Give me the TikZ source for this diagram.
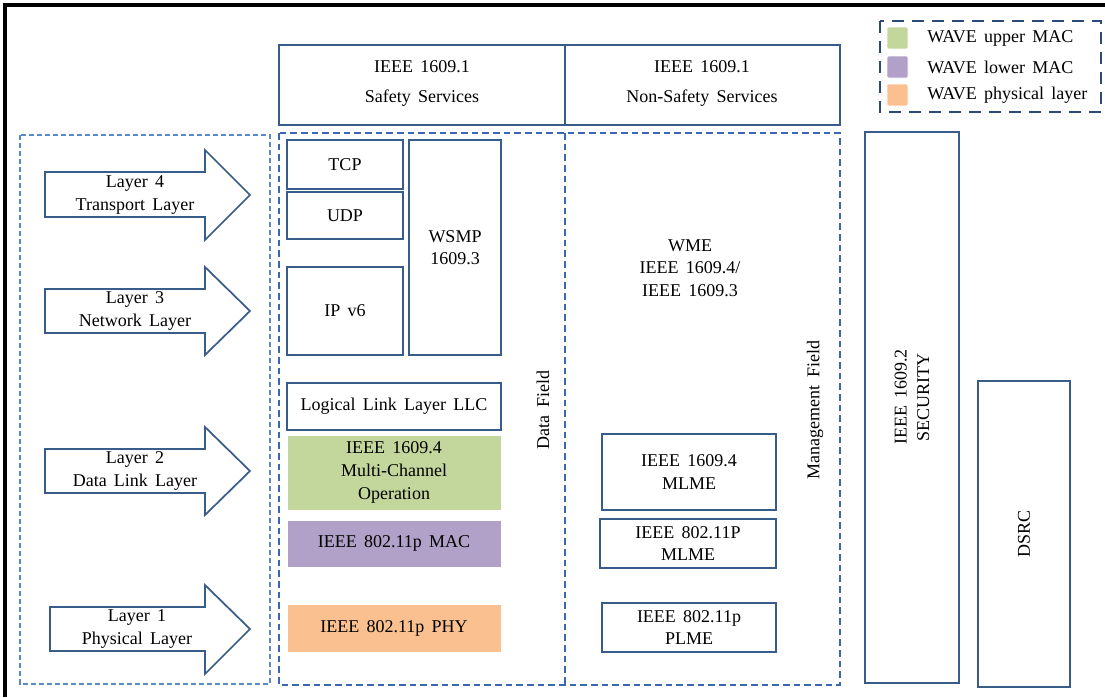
\documentclass[tikz,border=0pt]{standalone}
\usepackage{fontspec}
\setmainfont{Liberation Serif}
\usepackage{tikz}
\usetikzlibrary{positioning}
\definecolor{boxblue}{HTML}{385D8A}
\definecolor{dashblue}{HTML}{3A67AD}
\definecolor{lightdash}{HTML}{5A8AC6}
\definecolor{legdash}{HTML}{2C4A78}
\definecolor{upmac}{HTML}{C3D69B}
\definecolor{lowmac}{HTML}{B1A0C7}
\definecolor{phylay}{HTML}{FAC090}
\newcommand{\diagfont}{\fontsize{13.5}{17}\selectfont\spaceskip=0.4em plus 0.1em\relax}
\tikzstyle{box}=[draw=boxblue, line width=1.3pt]
\tikzstyle{fillbox}=[draw=white, line width=0.6pt]
\tikzstyle{txt}=[align=center, font=\diagfont, inner sep=0pt]
\tikzstyle{layerarrow}=[draw=boxblue, line width=1.3pt, line join=miter]
\tikzstyle{field}=[draw=dashblue, line width=1.2pt, dash pattern=on 5pt off 3pt]
\tikzstyle{swatch}=[draw=white, line width=0.5pt, rounded corners=1pt]

\begin{document}
\begin{tikzpicture}[x=0.75pt, y=-0.75pt]
    \useasboundingbox (0,0) rectangle (1105,697);
    \draw[line width=2.4pt] (5,697) -- (5,5) -- (1105,5);

    % legend
    \draw[draw=legdash, line width=2.2pt, dash pattern=on 9pt off 6pt] (880,21) rectangle (1101,112);
    \fill[swatch, fill=upmac] (887,27) rectangle (908,49);
    \fill[swatch, fill=lowmac] (887,56) rectangle (908,78);
    \fill[swatch, fill=phylay] (887,84) rectangle (908,106);
    \node[txt, anchor=west] (lup) at (927,38) {WAVE upper MAC};
    \node[txt, anchor=west] (llow) at (927,67) {WAVE lower MAC};
    \node[txt, anchor=west] (lphy) at (927,95) {WAVE physical layer};

    % services
    \draw[box] (279,45) rectangle (565,125) node[midway] (safe) {};
    \node[txt] (safe1) at (422,67) {IEEE 1609.1};
    \node[txt] (safe2) at (422,98) {Safety Services};
    \draw[box] (565,45) rectangle (840,125) node[midway] (nonsafe) {};
    \node[txt] (nonsafe1) at (702,67) {IEEE 1609.1};
    \node[txt] (nonsafe2) at (702,98) {Non-Safety Services};

    % OSI layers
    \draw[draw=lightdash, line width=1pt, dash pattern=on 4pt off 2pt] (20,135) rectangle (270,684);
    \draw[layerarrow] (45,172) -- (205,172) -- (205,150) -- (250,195) -- (205,240) -- (205,217) -- (45,217) -- cycle;
    \node[txt] (l4) at (135,195) {Layer 4\\Transport Layer};
    \draw[layerarrow] (45,289) -- (205,289) -- (205,267) -- (250,311) -- (205,355) -- (205,333) -- (45,333) -- cycle;
    \node[txt] (l3) at (135,311) {Layer 3\\Network Layer};
    \draw[layerarrow] (45,449) -- (205,449) -- (205,427) -- (250,471) -- (205,515) -- (205,493) -- (45,493) -- cycle;
    \node[txt] (l2) at (135,471) {Layer 2\\Data Link Layer};
    \draw[layerarrow] (50,607) -- (205,607) -- (205,585) -- (250,629) -- (205,674) -- (205,651) -- (50,651) -- cycle;
    \node[txt] (l1) at (137,629) {Layer 1\\Physical Layer};

    % data and management fields
    \draw[field] (279,133) rectangle (840,685);
    \draw[field] (565,133) -- (565,685);
    \node[txt, rotate=90] (datafield) at (543,410) {Data Field};
    \node[txt, rotate=90] (mgmtfield) at (815,410) {Management Field};

    % data plane
    \draw[box] (287,140) rectangle (403,189) node[midway] (tcp) {};
    \node[txt] at (tcp) {TCP};
    \draw[box] (287,192) rectangle (403,239) node[midway] (udp) {};
    \node[txt] at (udp) {UDP};
    \draw[box] (287,267) rectangle (403,355) node[midway] (ipv6) {};
    \node[txt] at (ipv6) {IP v6};
    \draw[box] (409,140) rectangle (501,355) node[midway] (wsmp) {};
    \node[txt] at (wsmp) {WSMP\\1609.3};
    \draw[box] (287,383) rectangle (501,430) node[midway] (llc) {};
    \node[txt] at (llc) {Logical Link Layer LLC};
    \fill[fillbox, fill=upmac] (287,435) rectangle (501,510) node[midway] (mco) {};
    \node[txt] at (mco) {IEEE 1609.4\\Multi-Channel\\Operation};
    \fill[fillbox, fill=lowmac] (287,520) rectangle (501,567) node[midway] (mac) {};
    \node[txt] at (mac) {IEEE 802.11p MAC};
    \fill[fillbox, fill=phylay] (287,604) rectangle (501,652) node[midway] (phy) {};
    \node[txt] at (phy) {IEEE 802.11p PHY};

    % management plane
    \node[txt] (wme) at (690,268) {WME\\IEEE 1609.4/\\IEEE 1609.3};
    \draw[box] (602,434) rectangle (776,510) node[midway] (mlme1) {};
    \node[txt] at (mlme1) {IEEE 1609.4\\MLME};
    \draw[box] (600,519) rectangle (776,568) node[midway] (mlme2) {};
    \node[txt] at (mlme2) {IEEE 802.11P\\MLME};
    \draw[box] (602,603) rectangle (776,652) node[midway] (plme) {};
    \node[txt] at (plme) {IEEE 802.11p\\PLME};

    % security and DSRC
    \draw[box] (865,132) rectangle (959,683) node[midway] (sec) {};
    \node[txt, rotate=90] at (912,397) {IEEE 1609.2\\SECURITY};
    \draw[box] (978,381) rectangle (1070,687) node[midway] (dsrc) {};
    \node[txt, rotate=90] at (dsrc) {DSRC};
\end{tikzpicture}
\end{document}
